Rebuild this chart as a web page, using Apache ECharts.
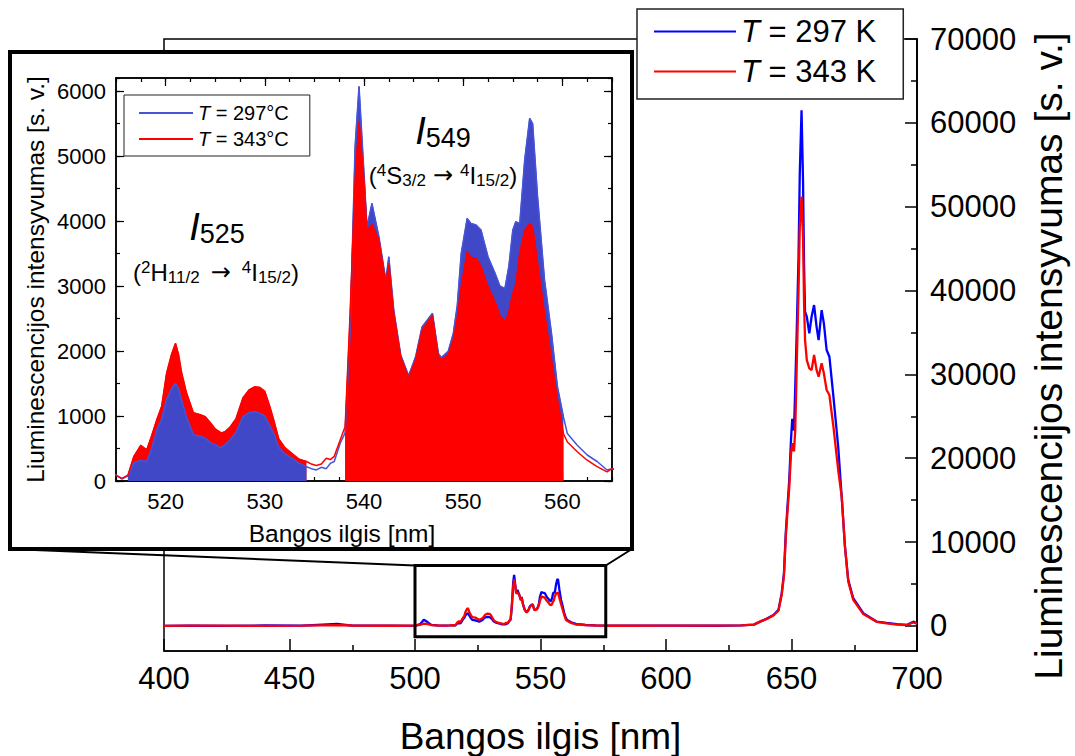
<!DOCTYPE html>
<html>
<head>
<meta charset="utf-8">
<title>Liuminescencijos spektras</title>
<script src="https://cdn.jsdelivr.net/npm/echarts/dist/echarts.min.js"></script>
<style>
  html, body { margin: 0; padding: 0; background: #fff; }
  #chart { width: 1075px; height: 756px; }
</style>
</head>
<body>
<div id="chart"></div>
<script>
// Emission spectrum sampled at these wavelengths [nm]
const wavelength = [
  400, 410, 425, 440, 455, 469, 475, 490, 500, 502, 503.5, 505, 506.5, 509, 512, 514,
  515.0, 515.6, 516.2, 516.8, 517.5, 518.1, 518.6, 519.1, 519.6, 520.1, 520.6, 521.0, 521.3, 521.6,
  522.1, 522.8, 523.5, 524.0, 524.5, 525.0, 525.6, 526.0, 526.5, 527.1, 527.8, 528.4, 529.0, 529.5,
  530.0, 530.5, 530.9, 531.4, 532.0, 532.7, 533.4, 534.2, 534.7, 535.2, 535.7, 536.2, 536.6, 537.0,
  537.6, 538.1, 538.6, 539.1, 539.5, 540.0, 540.3, 540.8, 541.5, 542.2, 542.5, 543.0, 543.7, 544.5,
  545.2, 545.85, 546.9, 547.5, 547.8, 548.5, 549.0, 549.4, 549.8, 550.4, 550.8, 551.3, 551.8, 552.5,
  553.2, 553.7, 554.2, 554.6, 555.0, 555.3, 555.7, 556.2, 556.7, 557.0, 557.5, 558.2, 558.9, 559.5,
  560.1, 560.5, 561.5, 562.5, 563.5, 564.5, 565.0,
  568, 572, 580, 600, 620, 630, 635, 637.5, 640, 642.8, 644.8, 646.1, 647.0, 647.7, 648.3, 649.1,
  649.8, 650.3, 651.0, 651.5, 652.1, 652.8, 653.3, 654.0, 654.6, 655.0, 655.4, 656.1, 657.1, 658.0,
  659.0, 660.0, 660.8, 662.0, 662.9, 664.0, 665.1, 666.7, 668.6, 670.0, 671.3, 672.6, 674.6, 678.6,
  683.9, 687.9, 692, 695.9, 698.5, 700
];
// Intensity at T = 297 K [a. u.]
const intensity297 = [
  0, 30, 0, 40, 20, 220, 30, 20, 0, 200, 720, 450, 120, 50, 30, 60,
  90, 30, 80, 280, 320, 300, 500, 780, 950, 1250, 1420, 1500, 1420, 1250,
  990, 710, 690, 660, 590, 560, 510, 560, 630, 750, 990, 1050, 1070, 1040,
  1000, 850, 730, 520, 420, 350, 280, 220, 190, 170, 210, 190, 270, 300,
  580, 740, 2300, 5140, 6070, 4730, 3910, 4270, 3760, 3090, 3450, 2630, 1940, 1620,
  1910, 2370, 2580, 1960, 1900, 2000, 2270, 2700, 3500, 4040, 3960, 3940, 3860, 3450,
  3200, 3000, 2960, 3300, 3860, 3990, 3960, 4940, 5580, 5500, 4370, 3090, 2270, 1450,
  990, 730, 550, 400, 300, 170, 190,
  100, 50, 20, 20, 10, 60, 150, 500, 850, 1300, 1900, 3900, 6300, 11000, 13800, 17400,
  22200, 24700, 23300, 28500, 35300, 44000, 54000, 61500, 53000, 43000, 37460, 36870, 34880, 36870,
  38260, 35670, 34090, 37660, 36080, 32900, 32100, 27330, 21370, 15410, 9450, 5480, 3300, 1510,
  510, 350, 200, 100, 500, 300
];
// Intensity at T = 343 K [a. u.]
const intensity343 = [
  0, 20, 30, 0, 30, 80, 40, 10, 20, 120, 260, 220, 80, 40, 30, 60,
  90, 40, 90, 380, 550, 480, 700, 940, 1150, 1660, 1950, 2120, 1950, 1680,
  1360, 1050, 1020, 990, 900, 800, 740, 760, 830, 960, 1280, 1400, 1450, 1440,
  1380, 1150, 940, 650, 520, 430, 340, 300, 260, 240, 260, 350, 330, 380,
  630, 840, 2580, 4630, 5530, 4630, 3860, 3950, 3710, 3040, 3350, 2580, 1910, 1590,
  1860, 2320, 2550, 1910, 1860, 1950, 2170, 2500, 2990, 3530, 3440, 3430, 3300, 2990,
  2760, 2550, 2450, 2600, 2890, 3020, 3500, 3860, 3960, 3910, 3350, 2580, 1860, 1250,
  730, 600, 450, 320, 220, 140, 190,
  90, 40, 10, 30, 20, 60, 150, 500, 800, 1250, 1800, 3700, 6000, 10500, 13200, 16500,
  20500, 21800, 20800, 23400, 31300, 40000, 47500, 51200, 46500, 38500, 34090, 31700, 30710, 30510,
  32300, 30510, 29710, 31310, 30120, 28130, 27530, 23750, 18590, 15410, 9450, 5300, 3100, 1400,
  480, 300, 150, 100, 400, 250
];

// Axis ticks
const mainYTicks = [0, 10000, 20000, 30000, 40000, 50000, 60000, 70000];
const mainYMinorTicks = [5000, 15000, 25000, 35000, 45000, 55000, 65000];
const insetXTicks = [520, 530, 540, 550, 560];
const insetYTicks = [0, 1000, 2000, 3000, 4000, 5000, 6000];

// Integration bands of the two green transitions [nm]
const bandI525 = [516.2, 534.2];
const bandI549 = [538.1, 560.1];
// Region of the main spectrum enlarged in the inset [nm, a. u.]
const zoomRange = { x: [500, 576], y: [-1300, 7200] };

const FONT = 'Liberation Sans, Arial, sans-serif';
const BLUE = '#0000ff', RED = '#ff0000';
const BLUE_INSET = '#4654d6', BLUE_FILL = '#4048c8', GRAY = '#c0c0c0';

const pts297 = wavelength.map((w, i) => [w, intensity297[i]]);
const pts343 = wavelength.map((w, i) => [w, intensity343[i]]);
const within = (pts, band) => pts.filter(p => p[0] >= band[0] && p[0] <= band[1]);
const plain = v => String(v);

const chart = echarts.init(document.getElementById('chart'), null, { renderer: 'svg' });

const axisLine = { show: true, onZero: false, lineStyle: { color: '#000', width: 1.5 } };
const noLabel = { show: false };
const noSplit = { show: false };

function tickAxis(extra) {
  return Object.assign({
    type: 'value', axisLine: axisLine, splitLine: noSplit, axisLabel: noLabel
  }, extra);
}

const insetX = { gridIndex: 1, min: 515, max: 565, z: 60 };
const insetY = { gridIndex: 1, min: 0, max: 6200, z: 60 };

const areaSeries = (name, pts, color, z) => ({
  name: name, type: 'line', xAxisIndex: 1, yAxisIndex: 2, data: pts, z: z,
  showSymbol: false, silent: true,
  lineStyle: { color: color, width: 1 },
  itemStyle: { color: color },
  areaStyle: { color: color, opacity: 1 }
});

const option = {
  animation: false,
  backgroundColor: '#fff',
  textStyle: { fontFamily: FONT, color: '#000' },
  grid: [
    { left: 164, top: 39, width: 753, height: 612, outerBoundsMode: 'none',
      show: true, borderColor: '#000', borderWidth: 1.5, backgroundColor: 'transparent' },
    { left: 116, top: 78, width: 496, height: 403, outerBoundsMode: 'none', z: 60 }
  ],
  legend: [
    {
      data: [{ name: 'T = 297 K', icon: 'rect' }, { name: 'T = 343 K', icon: 'rect' }],
      orient: 'vertical', left: 637, top: 9, z: 40,
      backgroundColor: '#fff', borderColor: '#222', borderWidth: 1.5,
      padding: [7, 27, 12, 17], itemWidth: 82, itemHeight: 2, itemGap: 9,
      selectedMode: false,
      formatter: name => '{i|T}' + name.slice(1),
      textStyle: { fontSize: 31, lineHeight: 30, fontFamily: FONT, color: '#000',
        rich: { i: { fontStyle: 'italic', fontSize: 31, fontFamily: FONT } } }
    },
    {
      data: [{ name: 'T = 297°C', icon: 'rect' }, { name: 'T = 343°C', icon: 'rect' }],
      orient: 'vertical', left: 124, top: 95, z: 70,
      backgroundColor: '#fff', borderColor: '#222', borderWidth: 1,
      padding: [8, 21, 7, 15], itemWidth: 54, itemHeight: 2, itemGap: 6,
      selectedMode: false,
      formatter: name => '{i|T}' + name.slice(1),
      textStyle: { fontSize: 20, lineHeight: 20, fontFamily: FONT, color: '#000',
        rich: { i: { fontStyle: 'italic', fontSize: 20, fontFamily: FONT } } }
    }
  ],
  xAxis: [
    tickAxis({
      gridIndex: 0, min: 400, max: 700, interval: 50,
      axisTick: { show: true, inside: true, length: 12, lineStyle: { width: 1.5 } },
      minorTick: { show: true, splitNumber: 2, length: 6, lineStyle: { color: '#000', width: 1.5 } },
      axisLabel: { show: true, fontSize: 31, margin: 12, color: '#000', fontFamily: FONT, formatter: plain },
      name: 'Bangos ilgis [nm]', nameLocation: 'middle', nameGap: 67,
      nameTextStyle: { fontSize: 37, color: '#000', fontFamily: FONT }
    }),
    tickAxis(Object.assign({}, insetX, {
      position: 'bottom',
      axisTick: { show: true, inside: true, length: 8, customValues: insetXTicks, lineStyle: { width: 1.2 } },
      axisLabel: { show: true, fontSize: 22, margin: 9, color: '#000', fontFamily: FONT, customValues: insetXTicks, formatter: plain },
      name: 'Bangos ilgis [nm]', nameLocation: 'middle', nameGap: 40,
      nameTextStyle: { fontSize: 24.5, color: '#000', fontFamily: FONT, padding: [0, 44, 0, 0] }
    })),
    tickAxis(Object.assign({}, insetX, {
      position: 'bottom', interval: 2.5,
      axisTick: { show: true, inside: true, length: 4, lineStyle: { width: 1.2 } }
    })),
    tickAxis(Object.assign({}, insetX, {
      position: 'top',
      axisTick: { show: true, inside: true, length: 8, customValues: insetXTicks, lineStyle: { width: 1.2 } }
    })),
    tickAxis(Object.assign({}, insetX, {
      position: 'top', interval: 2.5,
      axisTick: { show: true, inside: true, length: 4, lineStyle: { width: 1.2 } }
    }))
  ],
  yAxis: [
    tickAxis({
      gridIndex: 0, position: 'right', min: -3000, max: 70000,
      axisTick: { show: true, inside: true, length: 12, customValues: mainYTicks, lineStyle: { width: 1.5 } },
      axisLabel: { show: true, fontSize: 31, margin: 13, color: '#000', fontFamily: FONT, customValues: mainYTicks, formatter: plain },
      name: 'Liuminescencijos intensyvumas [s. v.]', nameLocation: 'middle', nameRotate: 90, nameGap: 112,
      nameTextStyle: { fontSize: 39, color: '#000', fontFamily: FONT, padding: [0, 22, 0, 0] }
    }),
    tickAxis({
      gridIndex: 0, position: 'right', min: -3000, max: 70000,
      axisTick: { show: true, inside: true, length: 6, customValues: mainYMinorTicks, lineStyle: { width: 1.5 } }
    }),
    tickAxis(Object.assign({}, insetY, {
      position: 'left',
      axisTick: { show: true, inside: true, length: 8, customValues: insetYTicks, lineStyle: { width: 1.2 } },
      axisLabel: { show: true, fontSize: 22, margin: 10, color: '#000', fontFamily: FONT, customValues: insetYTicks, formatter: plain },
      name: 'Liuminescencijos intensyvumas [s. v.]', nameLocation: 'middle', nameRotate: 90, nameGap: 68,
      nameTextStyle: { fontSize: 24.5, color: '#000', fontFamily: FONT }
    })),
    tickAxis(Object.assign({}, insetY, {
      position: 'left', interval: 500,
      axisTick: { show: true, inside: true, length: 4, lineStyle: { width: 1.2 } }
    })),
    tickAxis(Object.assign({}, insetY, {
      position: 'right',
      axisTick: { show: true, inside: true, length: 8, customValues: insetYTicks, lineStyle: { width: 1.2 } }
    })),
    tickAxis(Object.assign({}, insetY, {
      position: 'right', interval: 500,
      axisTick: { show: true, inside: true, length: 4, lineStyle: { width: 1.2 } }
    }))
  ],
  series: [
    // Full spectrum
    { name: 'T = 297 K', type: 'line', xAxisIndex: 0, yAxisIndex: 0, data: pts297, z: 2,
      showSymbol: false, symbol: 'none', lineStyle: { color: BLUE, width: 2.3 }, itemStyle: { color: BLUE } },
    { name: 'T = 343 K', type: 'line', xAxisIndex: 0, yAxisIndex: 0, data: pts343, z: 3,
      showSymbol: false, symbol: 'none', lineStyle: { color: RED, width: 2.3 }, itemStyle: { color: RED } },

    // Inset: shaded integration bands
    { name: 'bands', type: 'line', xAxisIndex: 1, yAxisIndex: 2, data: pts297, z: 60,
      showSymbol: false, silent: true, lineStyle: { width: 0, opacity: 0 },
      markArea: { silent: true, itemStyle: { color: GRAY, opacity: 1 },
        data: [[{ xAxis: bandI525[0] }, { xAxis: bandI525[1] }], [{ xAxis: bandI549[0] }, { xAxis: bandI549[1] }]] } },

    // Inset: integrated areas (larger one behind)
    areaSeries('I525 343', within(pts343, bandI525), RED, 61),
    areaSeries('I525 297', within(pts297, bandI525), BLUE_FILL, 62),
    areaSeries('I549 297', within(pts297, bandI549), BLUE_FILL, 61),
    areaSeries('I549 343', within(pts343, bandI549), RED, 62),

    // Inset: spectra
    { name: 'T = 297°C', type: 'line', xAxisIndex: 1, yAxisIndex: 2, data: pts297, z: 63,
      showSymbol: false, symbol: 'none', lineStyle: { color: BLUE_INSET, width: 1.5 }, itemStyle: { color: BLUE_INSET } },
    { name: 'T = 343°C', type: 'line', xAxisIndex: 1, yAxisIndex: 2, data: pts343, z: 64,
      showSymbol: false, symbol: 'none', lineStyle: { color: RED, width: 1.5 }, itemStyle: { color: RED },
      markLine: {
        silent: true, symbol: ['none', 'arrow'], symbolSize: [9, 14], label: { show: false },
        lineStyle: { color: '#000', width: 2.5, type: 'solid' },
        data: [
          [{ coord: [523.2, 1280] }, { coord: [523.2, 2230] }],
          [{ coord: [558.6, 5560] }, { coord: [558.6, 3880] }]
        ]
      } }
  ]
};

chart.setOption(option);

// Inset frame, zoom box and the lines joining them
const p0 = chart.convertToPixel({ xAxisIndex: 0, yAxisIndex: 0 }, [zoomRange.x[0], zoomRange.y[1]]);
const p1 = chart.convertToPixel({ xAxisIndex: 0, yAxisIndex: 0 }, [zoomRange.x[1], zoomRange.y[0]]);
const frame = { x: 10, y: 52, w: 622, h: 497 };

const sup = { fontSize: 17, fontFamily: FONT, fill: '#000', padding: [0, 0, 10, 0] };
const sub = { fontSize: 17, fontFamily: FONT, fill: '#000', padding: [10, 0, 0, 0] };
const norm = { fontSize: 24, fontFamily: FONT, fill: '#000' };
const arrow = { fontSize: 24, fontFamily: 'DejaVu Sans, sans-serif', fill: '#000', padding: [0, 7, 0, 7] };
const arrowWide = Object.assign({}, arrow, { padding: [0, 11, 0, 11] });
const bigRich = {
  i: { fontSize: 38, fontStyle: 'italic', fontFamily: FONT, fill: '#000' },
  s: { fontSize: 27, fontFamily: FONT, fill: '#000', padding: [14, 0, 0, 0] }
};
const trRich = { n: norm, p: sup, b: sub, a: arrow, w: arrowWide };

chart.setOption({
  graphic: [
    { type: 'rect', z: 50, shape: { x: frame.x, y: frame.y, width: frame.w, height: frame.h },
      style: { fill: '#fff', stroke: '#000', lineWidth: 4 } },
    { type: 'line', z: 55, shape: { x1: frame.x, y1: frame.y + frame.h, x2: p0[0], y2: p0[1] },
      style: { stroke: '#000', lineWidth: 2 } },
    { type: 'line', z: 55, shape: { x1: frame.x + frame.w, y1: frame.y + frame.h, x2: p1[0], y2: p0[1] },
      style: { stroke: '#000', lineWidth: 2 } },
    { type: 'rect', z: 55, shape: { x: p0[0], y: p0[1], width: p1[0] - p0[0], height: p1[1] - p0[1] },
      style: { fill: 'none', stroke: '#000', lineWidth: 3 } },
    { type: 'text', z: 70, x: 217, y: 227,
      style: { text: '{i|I}{s|525}', rich: bigRich, align: 'center', verticalAlign: 'middle' } },
    { type: 'text', z: 70, x: 216, y: 272,
      style: { text: '{n|(}{p|2}{n|H}{b|11/2}{w|→}{p|4}{n|I}{b|15/2}{n|)}', rich: trRich, align: 'center', verticalAlign: 'middle' } },
    { type: 'text', z: 70, x: 443, y: 131,
      style: { text: '{i|I}{s|549}', rich: bigRich, align: 'center', verticalAlign: 'middle' } },
    { type: 'text', z: 70, x: 443, y: 175,
      style: { text: '{n|(}{p|4}{n|S}{b|3/2}{a|→}{p|4}{n|I}{b|15/2}{n|)}', rich: trRich, align: 'center', verticalAlign: 'middle' } }
  ]
});
</script>
</body>
</html>
